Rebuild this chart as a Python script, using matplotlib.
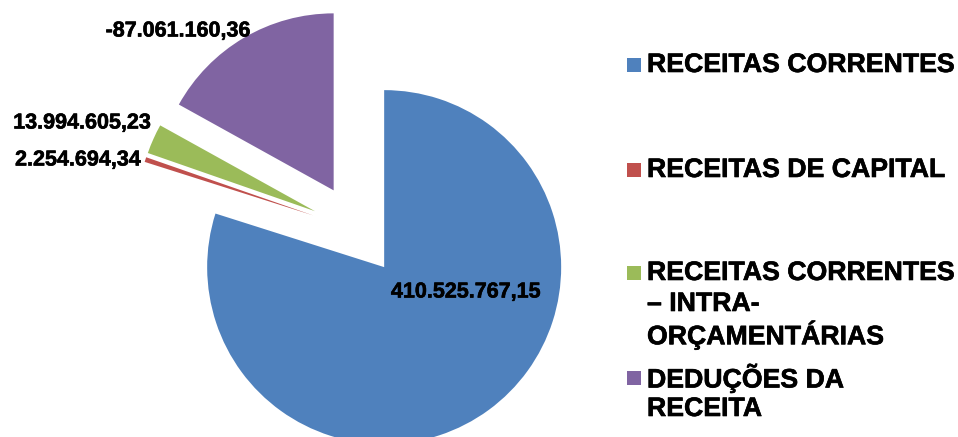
import numpy as np
from matplotlib import pyplot as plt
from matplotlib.patches import Rectangle
import matplotlib.patheffects as pe

plt.rcParams['font.family'] = ['Liberation Sans', 'DejaVu Sans']
plt.rcParams['font.weight'] = 'bold'

# data
categories = ["RECEITAS CORRENTES",
              "RECEITAS DE CAPITAL",
              "RECEITAS CORRENTES\n– INTRA-\nORÇAMENTÁRIAS",
              "DEDUÇÕES DA\nRECEITA"]
values = [410525767.15, 2254694.34, 13994605.23, -87061160.36]
value_labels = ["410.525.767,15", "2.254.694,34", "13.994.605,23", "-87.061.160,36"]
colors = ["#4F81BD", "#C0504D", "#9BBB59", "#8064A2"]

W, H = 958, 437
fig = plt.figure(figsize=(W / 100, H / 100), dpi=100)
ax = fig.add_axes([0, 0, 1, 1])

# pie is drawn in pixel units (y up), slices sized by absolute value
ax.pie(np.abs(values), explode=[46] * 4, radius=177, center=(357, H - 230),
       startangle=90, counterclock=False, colors=colors,
       wedgeprops=dict(linewidth=0))

ax.set_xlim(0, W)
ax.set_ylim(0, H)
ax.set_aspect('equal')
ax.axis('off')

# slightly heavier strokes like the original rendering
heavy = [pe.withStroke(linewidth=0.45, foreground='black')]

# data labels (pixel positions, top-left origin)
label_pos = [(466, 292), (78, 160), (82, 123), (178, 31)]
for txt, (px, py) in zip(value_labels, label_pos):
    ax.text(px, H - py, txt, ha='center', va='center', fontsize=15.5,
            fontweight='bold', color='black', path_effects=heavy)

# legend drawn by hand so the uneven spacing matches
leg_top = [65, 170, 273, 378]
line_step = 31
for cat, col, y0 in zip(categories, colors, leg_top):
    ax.add_patch(Rectangle((627, H - y0 - 7), 14, 14, facecolor=col, edgecolor='none'))
    for i, line in enumerate(cat.split("\n")):
        ax.text(647, H - (y0 + i * line_step), line, ha='left', va='center',
                fontsize=19.2, fontweight='bold', color='black', path_effects=heavy)

plt.savefig("out.png", dpi=100)
